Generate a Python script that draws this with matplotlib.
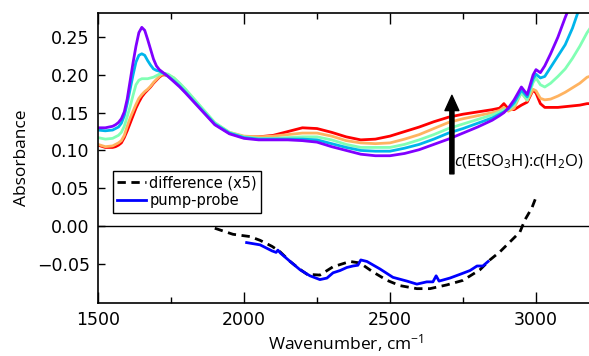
import matplotlib
matplotlib.use("Agg")
import matplotlib.pyplot as plt
from matplotlib.ticker import MultipleLocator
import numpy as np

# wavenumber grid for absorbance spectra (cm-1)
wn = [1500, 1525, 1550, 1560, 1570, 1580, 1590, 1600, 1610, 1620, 1630, 1640, 1650,
      1660, 1670, 1680, 1690, 1700, 1710, 1720, 1730, 1740, 1760, 1780,
      1800, 1850, 1900, 1950, 2000, 2050, 2100, 2150, 2200, 2250, 2300, 2350,
      2400, 2450, 2500, 2550, 2600, 2650, 2700, 2750, 2800, 2850, 2875, 2890,
      2905, 2925, 2950, 2970, 2990, 3000, 3015, 3030, 3050, 3075, 3100, 3125,
      3150, 3175, 3200]

# absorbance, lowest concentration (red) to highest (purple)
abs_red = [0.107, 0.104, 0.104, 0.105, 0.107, 0.110, 0.117, 0.126, 0.136, 0.146, 0.156, 0.164, 0.171,
           0.176, 0.180, 0.184, 0.189, 0.193, 0.197, 0.200, 0.200, 0.199, 0.195, 0.187,
           0.179, 0.157, 0.135, 0.123, 0.118, 0.118, 0.120, 0.125, 0.130, 0.129, 0.124, 0.118,
           0.114, 0.115, 0.119, 0.125, 0.131, 0.138, 0.144, 0.148, 0.151, 0.154, 0.156, 0.162,
           0.155, 0.154, 0.160, 0.164, 0.180, 0.176, 0.162, 0.157, 0.157, 0.157, 0.158, 0.159,
           0.160, 0.162, 0.162]
abs_orange = [0.108, 0.105, 0.106, 0.108, 0.110, 0.113, 0.120, 0.132, 0.143, 0.152, 0.161, 0.169, 0.174,
              0.178, 0.181, 0.185, 0.190, 0.194, 0.198, 0.201, 0.201, 0.200, 0.196, 0.188,
              0.180, 0.158, 0.136, 0.124, 0.119, 0.118, 0.119, 0.121, 0.123, 0.123, 0.119, 0.113,
              0.110, 0.109, 0.110, 0.115, 0.121, 0.129, 0.137, 0.142, 0.146, 0.150, 0.153, 0.157,
              0.152, 0.156, 0.177, 0.166, 0.181, 0.179, 0.169, 0.167, 0.168, 0.172, 0.177, 0.183,
              0.189, 0.197, 0.200]
abs_green = [0.117, 0.115, 0.116, 0.118, 0.120, 0.124, 0.132, 0.145, 0.158, 0.173, 0.187, 0.193, 0.195,
             0.195, 0.195, 0.196, 0.197, 0.199, 0.201, 0.202, 0.202, 0.201, 0.196, 0.189,
             0.181, 0.159, 0.137, 0.124, 0.118, 0.116, 0.116, 0.117, 0.118, 0.118, 0.114, 0.108,
             0.104, 0.104, 0.104, 0.108, 0.114, 0.121, 0.129, 0.135, 0.141, 0.147, 0.151, 0.154,
             0.154, 0.160, 0.176, 0.167, 0.190, 0.196, 0.187, 0.184, 0.189, 0.198, 0.208, 0.222,
             0.238, 0.256, 0.270]
abs_blue = [0.127, 0.126, 0.127, 0.129, 0.131, 0.136, 0.146, 0.162, 0.181, 0.200, 0.217, 0.226, 0.228,
            0.226, 0.219, 0.213, 0.208, 0.206, 0.205, 0.203, 0.201, 0.198, 0.192, 0.185,
            0.177, 0.156, 0.135, 0.123, 0.117, 0.115, 0.115, 0.115, 0.115, 0.114, 0.109, 0.104,
            0.100, 0.099, 0.099, 0.103, 0.108, 0.115, 0.123, 0.129, 0.136, 0.143, 0.148, 0.151,
            0.155, 0.163, 0.180, 0.171, 0.195, 0.201, 0.196, 0.198, 0.210, 0.225, 0.240, 0.262,
            0.290, 0.320, 0.350]
abs_purple = [0.130, 0.130, 0.132, 0.134, 0.137, 0.142, 0.151, 0.168, 0.192, 0.216, 0.238, 0.256, 0.263,
              0.259, 0.247, 0.234, 0.221, 0.212, 0.207, 0.204, 0.201, 0.198, 0.191, 0.184,
              0.176, 0.155, 0.134, 0.122, 0.116, 0.114, 0.114, 0.114, 0.113, 0.111, 0.105, 0.100,
              0.095, 0.093, 0.093, 0.096, 0.101, 0.108, 0.115, 0.123, 0.131, 0.140, 0.146, 0.150,
              0.156, 0.167, 0.184, 0.174, 0.200, 0.207, 0.203, 0.212, 0.228, 0.250, 0.276, 0.300,
              0.330, 0.360, 0.390]

# difference spectrum (x5)
diff_wn = [1900, 1962, 2020, 2055, 2096, 2123, 2158, 2190, 2216, 2260, 2305, 2363, 2397, 2442,
           2490, 2534, 2592, 2637, 2695, 2750, 2808, 2842, 2877, 2911, 2945, 2962, 2986, 3003]
diff_val = [-0.003, -0.011, -0.014, -0.019, -0.027, -0.034, -0.047, -0.057, -0.064, -0.065,
            -0.054, -0.047, -0.049, -0.061, -0.072, -0.079, -0.083, -0.083, -0.078, -0.072,
            -0.058, -0.045, -0.034, -0.021, -0.008, 0.008, 0.024, 0.041]

# pump-probe spectrum
pp_wn = [2009, 2055, 2096, 2110, 2116, 2125, 2158, 2192, 2226, 2260, 2284, 2305, 2329, 2352,
         2373, 2390, 2400, 2421, 2466, 2510, 2558, 2592, 2626, 2647, 2658, 2668, 2705, 2740,
         2774, 2798, 2818, 2836]
pp_val = [-0.022, -0.025, -0.033, -0.035, -0.032, -0.036, -0.047, -0.058, -0.066, -0.071,
          -0.069, -0.062, -0.059, -0.055, -0.053, -0.052, -0.045, -0.047, -0.057, -0.068,
          -0.073, -0.077, -0.074, -0.074, -0.066, -0.073, -0.069, -0.064, -0.059, -0.053,
          -0.053, -0.047]

plt.rcParams['mathtext.fontset'] = 'custom'
plt.rcParams['mathtext.rm'] = 'Open Sans'
plt.rcParams['mathtext.it'] = 'Open Sans:italic'

fig = plt.figure(figsize=(5.89, 3.56), dpi=100)
ax = fig.add_axes([98 / 589, 1 - 303 / 356, (594.4 - 98) / 589, (303 - 13) / 356])

spectra = [abs_red, abs_orange, abs_green, abs_blue, abs_purple]
colors = plt.cm.rainbow(np.linspace(1, 0, 5))
for s, c in zip(spectra, colors):
    ax.plot(wn, s, color=c, lw=2, solid_joinstyle='round')

ax.axhline(0, color='k', lw=1)
ax.plot(diff_wn, diff_val, 'k--', lw=2, dashes=(3, 2), label='difference (x5)')
ax.plot(pp_wn, pp_val, color='#0000ff', lw=2, label='pump-probe')

ax.annotate('', xy=(2712, 0.173), xytext=(2712, 0.069),
            arrowprops=dict(facecolor='k', edgecolor='k', width=3, headwidth=10, headlength=11))
ax.text(2720, 0.085, r'$c$(EtSO$_3$H):$c$(H$_2$O)', fontsize=12, family='Open Sans', va='center')

ax.set_xlim(1500, 3200)
ax.set_ylim(-0.102, 0.282)
ax.xaxis.set_major_locator(MultipleLocator(500))
ax.xaxis.set_minor_locator(MultipleLocator(250))
ax.tick_params(which='both', direction='in', top=True, right=False, labelsize=12.5, pad=6)
ax.tick_params(which='major', length=8, width=1)
ax.tick_params(which='minor', length=4, width=1)
ax.tick_params(axis='y', which='major', length=5)
ax.spines['right'].set_visible(False)
for sp in ['left', 'top', 'bottom']:
    ax.spines[sp].set_linewidth(1.2)

ax.set_yticks([-0.05, 0.0, 0.05, 0.10, 0.15, 0.20, 0.25])
ax.set_yticklabels(['\u22120.05', '0.00', '0.05', '0.10', '0.15', '0.20', '0.25'])

ax.set_xlabel('Wavenumber, cm$^{-1}$', fontsize=12.5, family='Open Sans', labelpad=2)
ax.set_ylabel('Absorbance', fontsize=12.5, family='Open Sans', labelpad=5)

leg = ax.legend(loc='upper left', bbox_to_anchor=(0.03, 0.455), fontsize=10.5,
                fancybox=False, framealpha=1, edgecolor='k', borderpad=0.3,
                labelspacing=0.2, handlelength=2, handletextpad=0.2, borderaxespad=0)
leg.get_frame().set_linewidth(1)

fig.savefig('out.png', dpi=100)
